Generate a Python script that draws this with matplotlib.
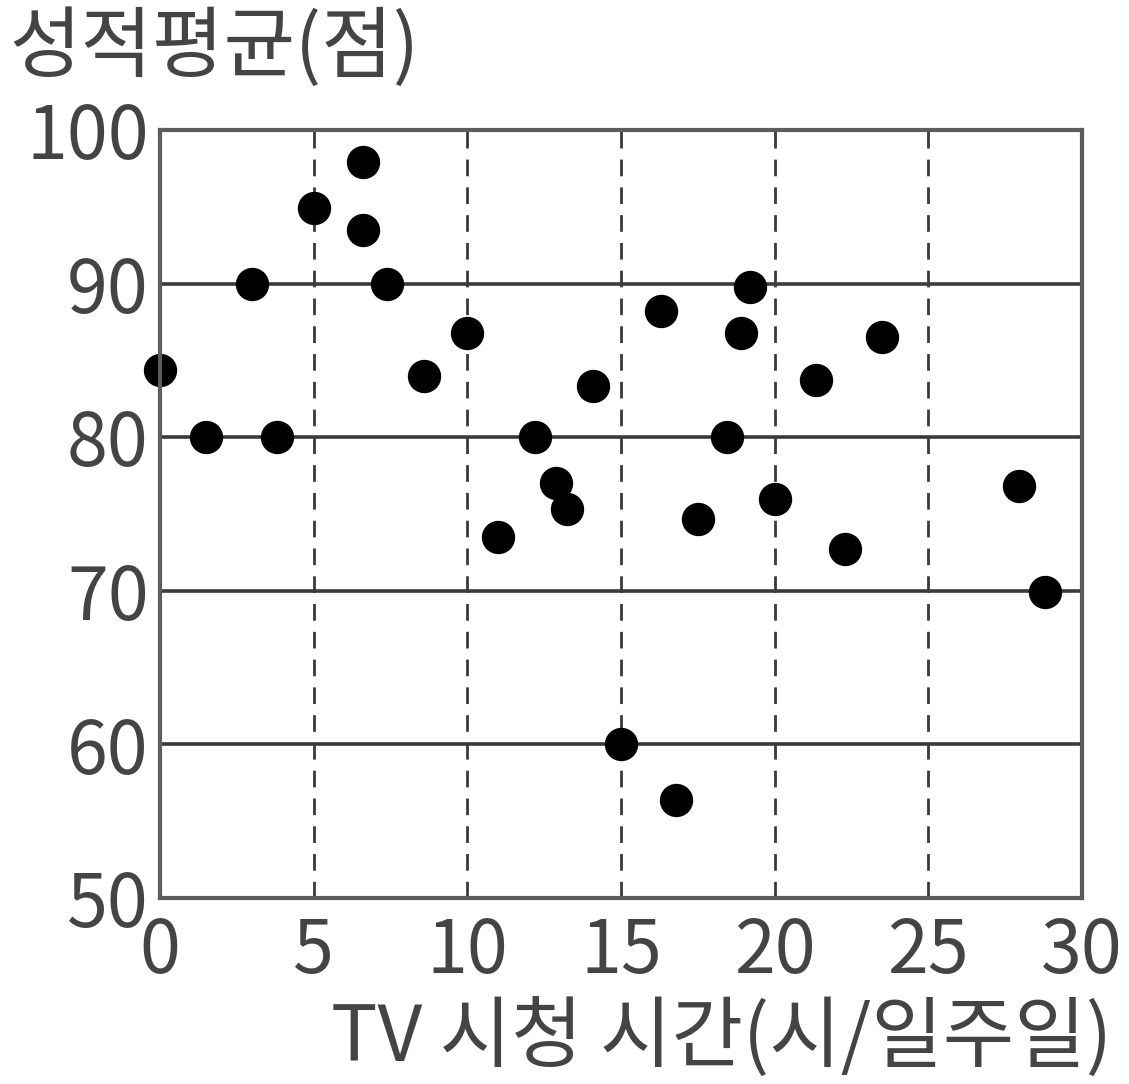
import matplotlib
matplotlib.use('Agg')
from matplotlib import pyplot as plt

plt.rcParams['font.family'] = ['Noto Sans CJK KR', 'DejaVu Sans']

# TV watching hours per week vs. average grade
tv_hours = [0.0, 1.5, 3.0, 3.8, 5.0, 6.6, 6.6, 7.4, 8.6, 10.0,
            11.0, 12.2, 12.9, 13.25, 14.1, 15.0, 16.3, 16.8, 17.5, 18.45,
            18.9, 19.2, 20.0, 21.35, 22.3, 23.5, 27.95, 28.8]
grades = [84.4, 80.0, 90.0, 80.0, 94.9, 97.9, 93.5, 90.0, 84.0, 86.8,
          73.5, 80.0, 77.0, 75.3, 83.3, 60.0, 88.2, 56.4, 74.7, 80.0,
          86.8, 89.8, 76.0, 83.7, 72.7, 86.5, 76.8, 69.9]

x_ticks = [0, 5, 10, 15, 20, 25, 30]
y_ticks = [50, 60, 70, 80, 90, 100]
hlines = [60, 70, 80, 90]
vlines = [5, 10, 15, 20, 25]

txt = '#444444'
frame = '#5c5c5c'

fig = plt.figure(figsize=(11.29, 10.84), dpi=100)
ax = fig.add_axes([0.1417, 0.1716, 0.8167, 0.7085])

for y in hlines:
    ax.axhline(y, color='#3a3a3a', lw=2.6, zorder=1)
for x in vlines:
    ax.axvline(x, color='#3a3a3a', lw=2.0, linestyle=(0, (6, 4)), zorder=1)

ax.plot(tv_hours, grades, 'o', color='black', markersize=23, zorder=3,
        clip_on=False)

ax.set_xlim(0, 30)
ax.set_ylim(50, 100)
ax.set_xticks(x_ticks)
ax.set_yticks(y_ticks)
ax.tick_params(length=0, labelsize=53, labelcolor=txt)
ax.tick_params(axis='y', pad=8)
ax.tick_params(axis='x', pad=12)
for s in ax.spines.values():
    s.set_color(frame)
    s.set_linewidth(3)
    s.set_zorder(4)

fig.text(0.008, 0.992, '성적평균(점)', fontsize=56, color=txt,
         ha='left', va='top')
fig.text(0.985, 0.004, 'TV 시청 시간(시/일주일)', fontsize=56, color=txt,
         ha='right', va='bottom')

plt.savefig('out.png', dpi=100)
